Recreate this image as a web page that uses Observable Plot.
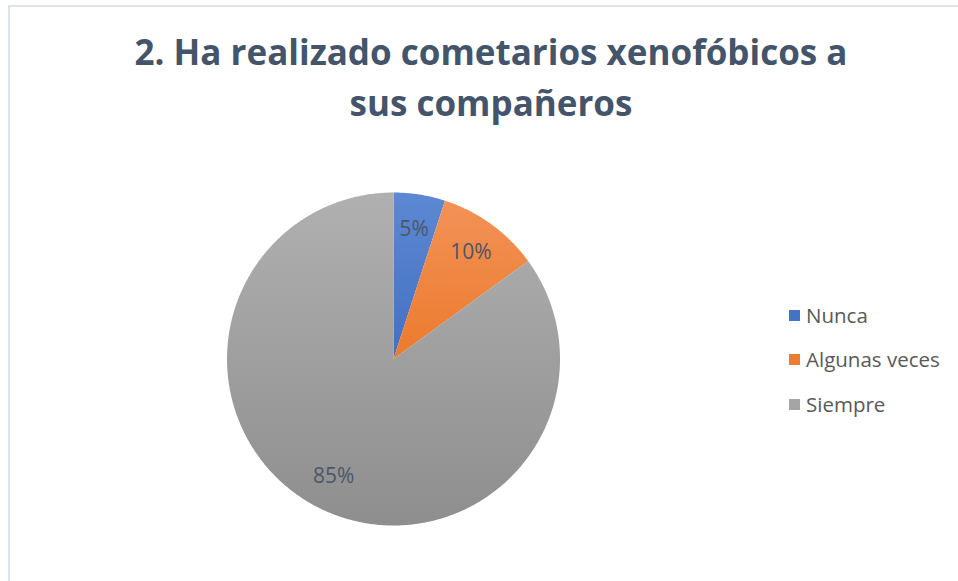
<!DOCTYPE html>
<html><head><meta charset="utf-8">
<script src="https://cdn.jsdelivr.net/npm/d3@7"></script>
<script src="https://cdn.jsdelivr.net/npm/@observablehq/plot@0.6"></script>
<style>
body{margin:0;background:#fff;}
#wrap{position:relative;width:958px;height:581px;overflow:hidden;font-family:"Open Sans",Lato,sans-serif;background:#fff;}
#frame{position:absolute;left:8px;top:5px;width:1000px;height:700px;border-left:2px solid #dfe3ea;border-top:2px solid #dfe3ea;}
#title{position:absolute;left:24px;top:26px;width:934px;text-align:center;font-weight:700;font-size:35px;line-height:51px;color:#44546a;white-space:nowrap;}
#chart{position:absolute;left:0;top:140px;}
#legend{position:absolute;left:789px;top:0;}
.item{position:absolute;left:0;height:24px;display:flex;align-items:center;white-space:nowrap;font-size:20.5px;color:#595959;}
.sw{width:11px;height:11px;margin-right:6px;}
</style></head>
<body>
<div id="wrap">
  <div id="frame"></div>
  <div id="title"></div>
  <div id="chart"></div>
  <div id="legend"></div>
</div>
<script>
const titleLines = ["2. Ha realizado cometarios xenofóbicos a", "sus compañeros"];
const categories = ["Nunca", "Algunas veces", "Siempre"];
const values = [5, 10, 85];
const labels = ["5%", "10%", "85%"];
const colorsTop = ["#5d88d3", "#f29257", "#b0b0b0"];
const colorsBottom = ["#4270c2", "#ec7a2c", "#8e8e8e"];
const legendColors = ["#4472c4", "#ed7d31", "#a5a5a5"];
const legendRowsY = [315, 359, 404];

document.getElementById("title").innerHTML = titleLines.join("<br>");

const arcs = d3.pie().sort(null).value(d => d)(values);
const pts = [];
arcs.forEach((a, i) => {
  pts.push({k: i, u: 0, v: 0});
  const n = Math.max(2, Math.ceil((a.endAngle - a.startAngle) / 0.01));
  for (let j = 0; j <= n; j++) {
    const t = a.startAngle + (a.endAngle - a.startAngle) * j / n;
    pts.push({k: i, u: Math.sin(t), v: Math.cos(t)});
  }
});
const labelData = arcs.map((a, i) => {
  const m = (a.startAngle + a.endAngle) / 2;
  return {t: labels[i], u: 0.79 * Math.sin(m), v: 0.79 * Math.cos(m)};
});

const plot = Plot.plot({
  width: 958, height: 441, margin: 0,
  style: {fontFamily: "'Open Sans', sans-serif", background: "transparent"},
  x: {domain: [-2.3604, 3.3934], axis: null},
  y: {domain: [-1.3363, 1.3123], axis: null},
  color: {type: "identity"},
  marks: [
    Plot.line(pts, {x: "u", y: "v", z: "k", fill: d => `url(#g${d.k})`, stroke: "none", curve: "linear-closed"}),
    Plot.text(labelData, {x: "u", y: "v", text: "t", fontSize: 21, fill: "#4d5668"})
  ]
});
const defs = d3.select(plot).insert("defs", ":first-child");
colorsTop.forEach((c, i) => {
  const g = defs.append("linearGradient").attr("id", "g" + i).attr("x1", 0).attr("y1", 0).attr("x2", 0).attr("y2", 1);
  g.append("stop").attr("offset", "0%").attr("stop-color", c);
  g.append("stop").attr("offset", "100%").attr("stop-color", colorsBottom[i]);
});
document.getElementById("chart").appendChild(plot);

const legend = document.getElementById("legend");
categories.forEach((c, i) => {
  const it = document.createElement("div");
  it.className = "item";
  it.style.top = (legendRowsY[i] - 12) + "px";
  it.innerHTML = `<span class="sw" style="background:${legendColors[i]}"></span><span>${c}</span>`;
  legend.appendChild(it);
});
</script>
</body></html>
